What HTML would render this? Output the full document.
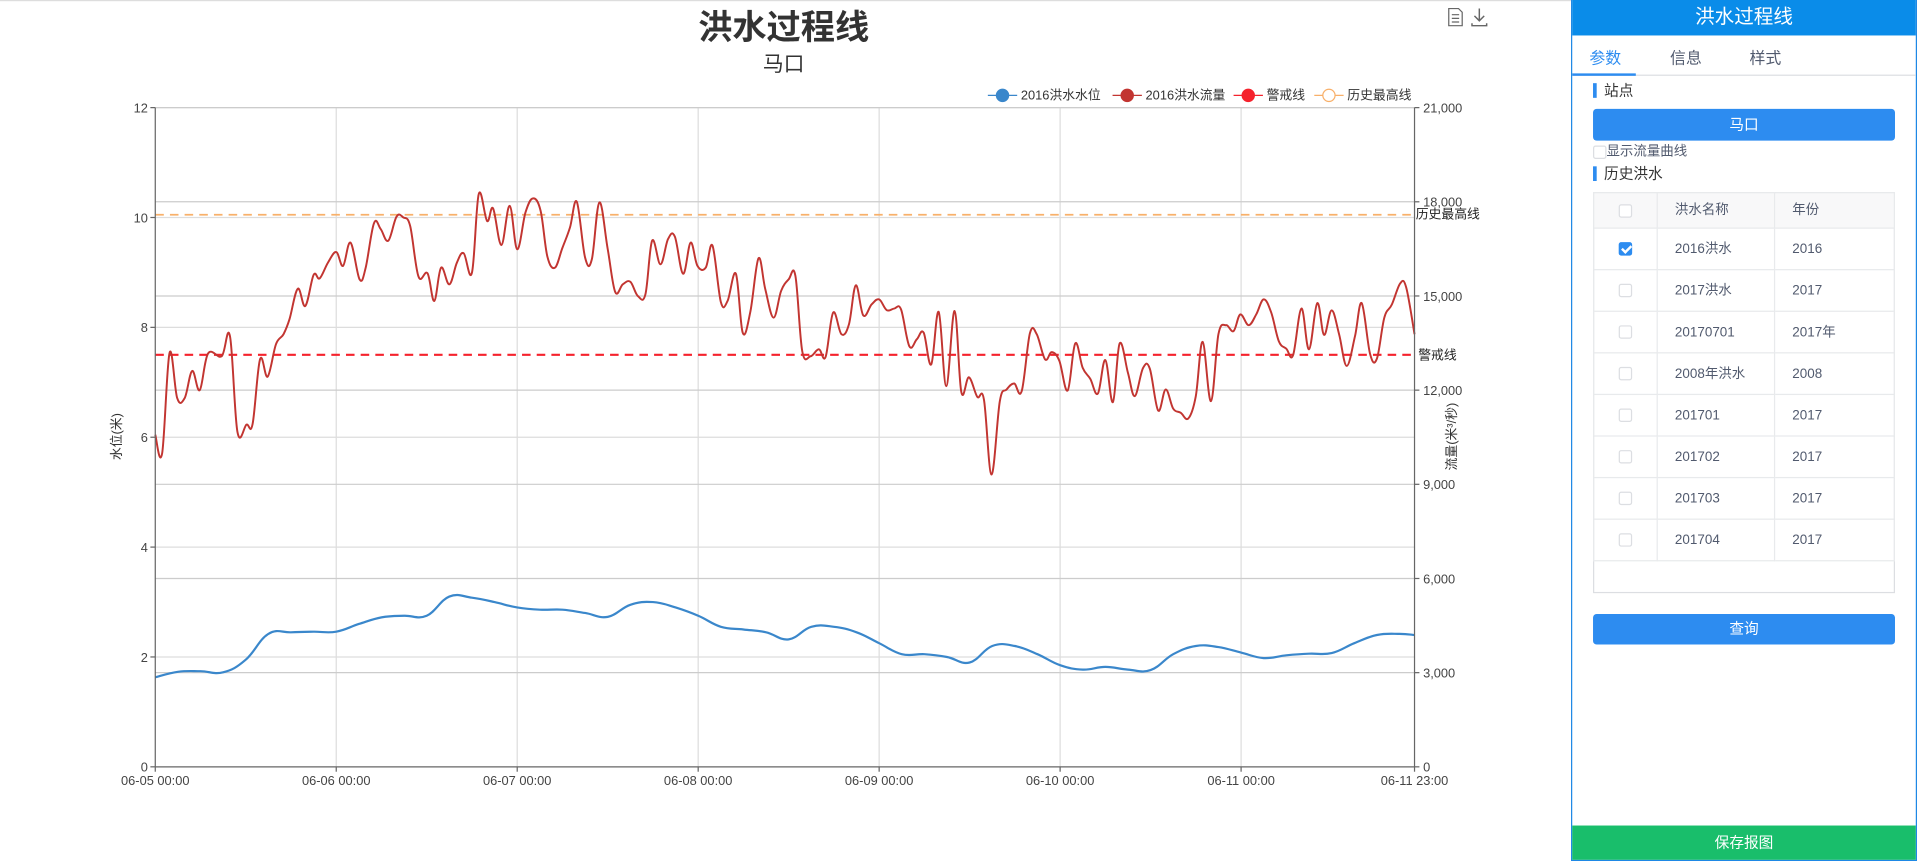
<!DOCTYPE html>
<html><head><meta charset="utf-8">
<style>
html,body{margin:0;padding:0;background:#fff;overflow:hidden;}
body{width:1917px;height:861px;}
#wrap{position:absolute;left:0;top:0;width:1568px;height:704px;transform:scale(1.22258,1.22301);transform-origin:0 0;font-family:"Liberation Sans","Noto Sans CJK SC",sans-serif;color:#333;}
#topline{position:absolute;left:0;top:0;width:1285px;height:1px;background:#ddd;}
#chart{position:absolute;left:0;top:0;}
#panel{position:absolute;left:1285px;top:0;width:281px;height:703px;border:1px solid #1e88e5;border-top:none;background:#fff;}
.hdr{height:29px;background:#0a8ce9;color:#fff;font-size:16px;text-align:center;line-height:29px;}
.tabs{position:relative;height:32px;border-bottom:1px solid #dcdee2;font-size:13px;}
.tab{position:absolute;top:8px;color:#515a6e;}
.tab.on{color:#2d8cf0;}
.tabline{position:absolute;left:0;bottom:-1px;width:52px;height:2px;background:#2d8cf0;}
.sec{position:absolute;left:17px;font-size:12px;color:#333;padding-left:6px;border-left:3px solid #2d8cf0;line-height:12px;}
.btn{position:absolute;left:17px;width:247px;height:26px;background:#2d8cf0;border-radius:3px;color:#fff;font-size:12px;text-align:center;line-height:26px;}
.cb{display:inline-block;width:11px;height:11px;border:1px solid #dcdee2;border-radius:2px;background:#fff;box-sizing:border-box;vertical-align:middle;}
.cb.on{background:#2d8cf0;border-color:#2d8cf0;position:relative;}
.cb.on:after{content:"";position:absolute;left:3px;top:0px;width:3px;height:6px;border:solid #fff;border-width:0 2px 2px 0;transform:rotate(45deg);}
table{position:absolute;left:17px;top:157px;width:247px;border-collapse:collapse;font-size:11px;color:#515a6e;table-layout:fixed;}
td{border:1px solid #e8eaec;height:33px;padding:0;line-height:14px;vertical-align:middle;}
td.c0{width:51px;text-align:center;}
td.c1{width:96px;padding-left:14px;box-sizing:border-box;}
td.c2{padding-left:14px;}
td span.t{display:inline-block;line-height:14px;vertical-align:middle;}
tr.h td{background:#f8f8f9;height:28px;}
.tblbox{position:absolute;left:17px;top:157px;width:245px;height:326px;border:1px solid #dcdee2;}
.save{position:absolute;left:0;top:675px;width:281px;height:28px;background:#19be6b;color:#fff;font-size:12px;text-align:center;line-height:28px;}
</style></head>
<body>
<div id="wrap">
<div id="topline"></div>
<svg id="chart" width="1285" height="704" font-family="Liberation Sans, Noto Sans CJK SC, sans-serif">
  <text x="641" y="32" text-anchor="middle" font-size="28" font-weight="bold" fill="#333">洪水过程线</text>
  <text x="641" y="58" text-anchor="middle" font-size="17" fill="#333">马口</text>
  <g stroke="#666" fill="none" stroke-width="1">
    <path d="M1185,7 h8 l3,3 v11 h-11 z M1187.5,12 h6 M1187.5,15 h6 M1187.5,18 h6"/>
  </g>
  <g stroke="#666" fill="none" stroke-width="1.2">
    <path d="M1210,7 v10 M1206,13 l4,4 l4,-4 M1204,19 v2 h12 v-2"/>
  </g>
  <g id="grid"></g>
  <g id="legend"></g>
  <g id="series"></g>
  <g id="axes"></g>
</svg>

<div id="panel">
  <div class="hdr">洪水过程线</div>
  <div class="tabs">
    <span class="tab on" style="left:14px">参数</span>
    <span class="tab" style="left:80px">信息</span>
    <span class="tab" style="left:145px">样式</span>
    <div class="tabline"></div>
  </div>
  <div class="sec" style="top:68px">站点</div>
  <div class="btn" style="top:89px">马口</div>
  <div style="position:absolute;left:17px;top:115px;font-size:11px;color:#515a6e;"><span class="cb"></span>显示流量曲线</div>
  <div class="sec" style="top:136px">历史洪水</div>
  <div class="tblbox"></div>
  <table>
    <tr class="h"><td class="c0"><span class="cb"></span></td><td class="c1"><span class="t">洪水名称</span></td><td class="c2"><span class="t">年份</span></td></tr>
    <tr><td class="c0"><span class="cb on"></span></td><td class="c1"><span class="t">2016洪水</span></td><td class="c2"><span class="t">2016</span></td></tr>
    <tr><td class="c0"><span class="cb"></span></td><td class="c1"><span class="t">2017洪水</span></td><td class="c2"><span class="t">2017</span></td></tr>
    <tr><td class="c0"><span class="cb"></span></td><td class="c1"><span class="t">20170701</span></td><td class="c2"><span class="t">2017年</span></td></tr>
    <tr><td class="c0"><span class="cb"></span></td><td class="c1"><span class="t">2008年洪水</span></td><td class="c2"><span class="t">2008</span></td></tr>
    <tr><td class="c0"><span class="cb"></span></td><td class="c1"><span class="t">201701</span></td><td class="c2"><span class="t">2017</span></td></tr>
    <tr><td class="c0"><span class="cb"></span></td><td class="c1"><span class="t">201702</span></td><td class="c2"><span class="t">2017</span></td></tr>
    <tr><td class="c0"><span class="cb"></span></td><td class="c1"><span class="t">201703</span></td><td class="c2"><span class="t">2017</span></td></tr>
    <tr><td class="c0"><span class="cb"></span></td><td class="c1"><span class="t">201704</span></td><td class="c2"><span class="t">2017</span></td></tr>
  </table>
  <div class="btn" style="top:502px;height:25px;line-height:25px">查询</div>
  <div class="save">保存报图</div>
</div>
</div>

<script>
const levelHours = [0,3,6,9,12,15,18,21,24,27,30,33,36,39,42,45,48,51,54,57,60,63,66,69,72,75,78,81,84,87,90,93,96,99,102,105,108,111,114,117,120,123,126,129,132,135,138,141,144,147,150,153,156,159,162,165,167];
const levelValues = [1.63,1.73,1.74,1.72,1.95,2.42,2.45,2.46,2.46,2.6,2.72,2.75,2.75,3.1,3.08,3.0,2.9,2.86,2.86,2.8,2.73,2.95,3.0,2.9,2.75,2.55,2.5,2.45,2.32,2.55,2.55,2.45,2.25,2.05,2.05,2.0,1.9,2.2,2.2,2.05,1.85,1.77,1.82,1.77,1.76,2.05,2.2,2.18,2.08,1.98,2.03,2.06,2.07,2.25,2.4,2.42,2.4];
const flowHours = [0,0.9,1.9,2.9,3.9,4.9,5.9,7,8.8,9.9,10.9,12.1,12.9,13.9,14.9,16,17,17.8,18.9,19.9,21,21.8,22.9,24,24.9,25.9,27.1,27.9,29,29.9,30.9,32,32.9,33.8,34.9,36.1,37,37.9,39,40,40.9,42,42.9,44,44.8,45.9,47,48,49.1,50.1,51.1,52,53,54,55,55.9,57,57.9,58.9,60,61,62,63,64,65,65.9,67,68,68.9,70,71,71.9,73,73.9,75,75.9,77,77.9,78.9,80,80.9,82,83,84,84.9,85.8,86.9,88,88.9,89.9,91,92,92.9,93.9,95,96,97,98,98.9,100,101,101.9,102.9,103.9,104.9,106,106.9,107.9,109,109.9,110.9,112,112.9,113.9,114.9,116,116.9,118,118.9,119.9,121,122,123,124,125,126,127,127.9,129,129.9,131,131.9,133,134,135,136,137,138,138.9,140,141,142,143,143.9,145,146,147,148,149,150,150.9,152,153,154.1,155,156,157,158,159.1,160,161.1,162,163,164,165.1,165.9,167];
const flowValues = [10580,9980,13190,11750,11750,12610,12000,13170,13080,13720,10670,10900,10920,12980,12430,13460,13780,14260,15230,14680,15670,15560,16060,16400,15960,16700,15530,15900,17320,17130,16760,17530,17500,17230,15620,15720,14840,15900,15370,16060,16360,15740,18250,17390,17790,16620,17870,16490,17660,18110,17710,16260,15900,16540,17180,18000,16220,16170,17980,16490,15130,15370,15450,15000,15050,16760,16010,16810,16890,15710,16700,15960,15900,16600,14810,14840,15710,13830,14470,16200,15210,14310,15160,15530,15640,13240,13080,13300,13060,14470,13780,14100,15340,14380,14730,14890,14550,14600,14570,13400,13620,13830,12820,14490,12130,14520,11940,12410,11790,11700,9310,11650,12020,12210,11970,13810,13780,12980,13210,12930,11990,13490,12710,12360,11890,12960,11620,13490,12550,11810,12710,12680,11350,12020,11410,11280,11100,11810,13540,11650,13780,14070,13880,14410,14070,14410,14890,14470,13560,13320,13120,14600,13300,14770,13760,14540,13780,12770,13720,14770,13160,13000,14310,14730,15400,15270,13780];
const warningLevel = [7.5];
const historyMaxLevel = [10.05];
const leftTicks = [0,2,4,6,8,10,12];
const rightTicks = [0,3000,6000,9000,12000,15000,18000,21000];
const dayLabels = ["06-05 00:00","06-06 00:00","06-07 00:00","06-08 00:00","06-09 00:00","06-10 00:00","06-11 00:00"];
const dayHours = [0,24,48,72,96,120,144];
const endLabel = ["06-11 23:00"];
const totalHours = 167;
const legendNames = ["2016洪水水位","2016洪水流量","警戒线","历史最高线"];

const NS="http://www.w3.org/2000/svg";
const X0=127,X1=1157,YB=627,YT=88;
const xS=h=>X0+h*(X1-X0)/totalHours;
const yL=v=>YB-v*(YB-YT)/12;
const yR=f=>YB-f*(YB-YT)/21000;
function mk(tag,attrs,parent,text){const e=document.createElementNS(NS,tag);for(const k in attrs)e.setAttribute(k,attrs[k]);if(text!==undefined)e.textContent=text;parent.appendChild(e);return e;}
function smoothPath(pts,s){let d="M"+pts[0][0].toFixed(1)+","+pts[0][1].toFixed(1);
 for(let i=0;i<pts.length-1;i++){const p0=pts[i-1]||pts[i],p1=pts[i],p2=pts[i+1],p3=pts[i+2]||p2;
  const c1=[p1[0]+(p2[0]-p0[0])*s,p1[1]+(p2[1]-p0[1])*s],c2=[p2[0]-(p3[0]-p1[0])*s,p2[1]-(p3[1]-p1[1])*s];
  d+=" C"+c1[0].toFixed(1)+","+c1[1].toFixed(1)+" "+c2[0].toFixed(1)+","+c2[1].toFixed(1)+" "+p2[0].toFixed(1)+","+p2[1].toFixed(1);}
 return d;}
const grid=document.getElementById('grid'),axes=document.getElementById('axes'),series=document.getElementById('series'),legend=document.getElementById('legend');
dayHours.forEach((h,i)=>{if(i===0)return;const l=mk('line',{x1:xS(h),x2:xS(h),y1:YT,y2:YB,stroke:'#ddd','stroke-width':1},grid);

});
leftTicks.forEach(v=>{if(v===0)return;const l=mk('line',{x1:X0,x2:X1,y1:yL(v),y2:yL(v),stroke:'#ddd','stroke-width':1},grid);

});
rightTicks.forEach(v=>{if(v===0||v===21000)return;const l=mk('line',{x1:X0,x2:X1,y1:yR(v),y2:yR(v),stroke:'#ccc','stroke-width':1},grid);

});
mk('line',{x1:X0,x2:X1,y1:YT,y2:YT,stroke:'#ccc'},grid);
const wl=mk('line',{x1:X0,x2:X1,y1:yL(warningLevel[0]),y2:yL(warningLevel[0]),stroke:'#f5222d','stroke-width':1.8,'stroke-dasharray':'7,5'},series);


const hl=mk('line',{x1:X0,x2:X1,y1:yL(historyMaxLevel[0]),y2:yL(historyMaxLevel[0]),stroke:'#f8b06a','stroke-width':1.5,'stroke-dasharray':'7,5'},series);


const wt=mk('text',{x:X1+3,y:yL(warningLevel[0])+4,'font-size':10.5,fill:'#222'},series,'警戒线');


const ht=mk('text',{x:X1+1,y:yL(historyMaxLevel[0])+3,'font-size':10.5,fill:'#222'},series,'历史最高线');


const fp=mk('path',{d:smoothPath(flowHours.map((h,i)=>[xS(h),yR(flowValues[i])]),0.18),fill:'none',stroke:'#c23531','stroke-width':1.6,'stroke-linejoin':'round'},series);


const lp=mk('path',{d:smoothPath(levelHours.map((h,i)=>[xS(h),yL(levelValues[i])]),0.2),fill:'none',stroke:'#3a87cb','stroke-width':1.8},series);


mk('line',{x1:X0,x2:X0,y1:YT,y2:YB,stroke:'#666'},axes);
mk('line',{x1:X1,x2:X1,y1:YT,y2:YB,stroke:'#666'},axes);
mk('line',{x1:X0,x2:X1,y1:YB,y2:YB,stroke:'#666'},axes);
leftTicks.forEach(v=>{mk('line',{x1:X0-4,x2:X0,y1:yL(v),y2:yL(v),stroke:'#666'},axes);
const t=mk('text',{x:X0-6,y:yL(v)+4,'text-anchor':'end','font-size':10.5,fill:'#444'},axes,String(v));

});
rightTicks.forEach(v=>{mk('line',{x1:X1,x2:X1+4,y1:yR(v),y2:yR(v),stroke:'#666'},axes);
const t=mk('text',{x:X1+7,y:yR(v)+4,'font-size':10.5,fill:'#444'},axes,v.toLocaleString('en-US'));

});
dayHours.forEach((h,i)=>{mk('line',{x1:xS(h),x2:xS(h),y1:YB,y2:YB+4,stroke:'#666'},axes);
const t=mk('text',{x:xS(h),y:YB+15,'text-anchor':'middle','font-size':10.5,fill:'#444'},axes,dayLabels[i]);

});
mk('line',{x1:X1,x2:X1,y1:YB,y2:YB+4,stroke:'#666'},axes);
const et=mk('text',{x:X1,y:YB+15,'text-anchor':'middle','font-size':10.5,fill:'#444'},axes,endLabel[0]);


const ya=mk('text',{x:0,y:0,'text-anchor':'middle','font-size':10.5,fill:'#333',transform:'translate(99,357) rotate(-90)'},axes,'水位(米)');


const yb=mk('text',{x:0,y:0,'text-anchor':'middle','font-size':10.5,fill:'#333',transform:'translate(1191,357) rotate(-90)'},axes,'流量(米³/秒)');


const legX=[808,910,1009,1075],legC=['#3a87cb','#c23531','#f5222d','#f8b06a'];
legendNames.forEach((n,i)=>{const g=mk('g',{},legend);


const x=legX[i];mk('line',{x1:x,x2:x+24,y1:78,y2:78,stroke:legC[i],'stroke-width':1},g);
mk('circle',{cx:x+12,cy:78,r:5,fill:i===3?'#fff':legC[i],stroke:legC[i],'stroke-width':1},g);
mk('text',{x:x+27,y:81.5,'font-size':10.5,fill:'#333'},g,n);});
</script>
</body></html>
